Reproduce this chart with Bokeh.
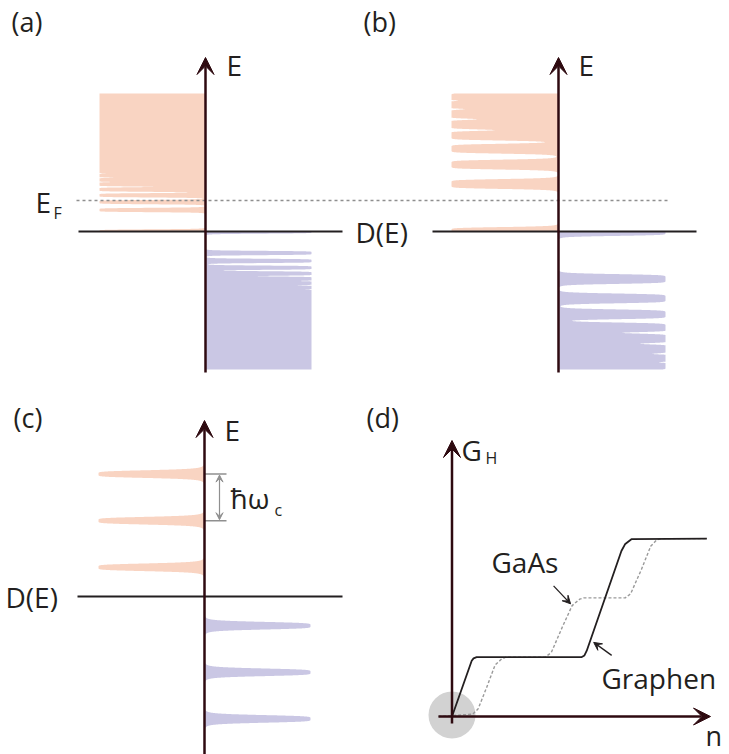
import numpy as np
from bokeh.plotting import figure
from bokeh.models import Range1d, Arrow, VeeHead
from bokeh.core.properties import value
from bokeh.embed import file_html
from bokeh.resources import INLINE

# ---------------- data ----------------
# (a) graphene, weak field: Landau-level energies (mirrored for E<0) and broadenings
a_levels = [0.0, 21.5, 29.4, 36.2, 42.0, 47.2, 51.7, 55.8]
a_broad = [2.2, 2.2, 2.2, 2.2, 2.35, 2.3, 2.1, 1.89]
a_continuum = 60.0
a_continuum_broad = 2.27
a_E_max = 138.0
a_E_F = 31.0
# (b) graphene, strong field
b_levels = [0.0, 47.5, 66.9, 82.8, 95.9, 106.9, 117.5, 126.7, 135.0]
b_broad = [4.5, 5.0, 5.0, 5.0, 5.0, 5.1, 5.0, 4.0, 4.2]
b_E_max = 138.0
# (c) GaAs 2DEG: equally spaced levels
c_levels = [29.2, 75.8, 122.4]
c_broad = [4.0, 4.0, 4.0]
c_E_max = 150.0
# (d) Hall conductance G_H versus density n
graphene_n = [0.0, 0.256, 0.28, 0.32, 1.68, 1.72, 1.75, 2.20, 2.25, 2.33, 3.31]
graphene_G = [0.0, 0.94, 0.98, 1.0, 1.0, 1.03, 1.11, 2.79, 2.91, 2.99, 3.0]
gaas_n = [-0.18, 0.27, 0.34, 0.45, 0.56, 0.645, 0.70, 1.21, 1.29, 1.43, 1.56, 1.66,
          1.71, 2.25, 2.32, 2.46, 2.58, 2.66, 2.73, 3.30]
gaas_G = [0.0, 0.04, 0.13, 0.49, 0.87, 0.97, 1.0, 1.0, 1.08, 1.50, 1.87, 1.98,
          2.0, 2.0, 2.07, 2.48, 2.87, 2.98, 3.0, 3.0]
gaas_pointer = (1.54, 1.90)
graphene_pointer = (1.84, 1.25)

# ---------------- styles / layout ----------------
ORANGE = "#f9d4c2"
PURPLE = "#cac7e4"
AX = "#2e0a10"
INK = "#231f20"
GREY = "#8f8f8f"
FONT = value("Open Sans")
TEXT_DY = -11

p = figure(width=729, height=754, x_range=Range1d(0, 729), y_range=Range1d(754, 0),
           x_axis_type=None, y_axis_type=None, toolbar_location=None,
           output_backend="svg", min_border=0)
p.grid.visible = False
p.outline_line_color = None
p.background_fill_color = "white"
p.border_fill_color = "white"


def dos(E, levels, broad, pw, cont=None, cont_broad=None):
    D = np.zeros_like(E)
    for e, g in zip(levels, broad):
        D += 1.0 / (1.0 + np.abs((E - e) / g) ** pw)
    if cont is not None:
        D += np.where(E >= cont, 1.0, 1.0 / (1.0 + np.abs((cont - E) / cont_broad) ** pw))
    return np.minimum(D, 1.0)


def dos_panel(ax_x, zero_y, W, E_max, levels, broad, pw, cont=None, cont_broad=None):
    E = np.linspace(0, E_max, 4000)
    D = dos(E, levels, broad, pw, cont, cont_broad)
    p.harea(y=zero_y - E, x1=ax_x - W * D, x2=np.full_like(E, ax_x), fill_color=ORANGE)
    p.harea(y=zero_y + E, x1=np.full_like(E, ax_x), x2=ax_x + W * D, fill_color=PURPLE)


def axis_arrow(x0, y0, x1, y1, width=2.5, size=17, color=AX):
    p.add_layout(Arrow(x_start=x0, y_start=y0, x_end=x1, y_end=y1,
                       line_color=color, line_width=width,
                       end=VeeHead(size=size, fill_color=color, line_color=color)))


def label(x, y, t, size=28, align="left"):
    p.text(x=[x], y=[y + TEXT_DY], text=[t], text_font=FONT, text_font_size=value(f"{size}px"),
           text_color=INK, text_align=align, text_baseline="alphabetic")


# ---- panel (a)
A_X, A_Y, A_W = 205, 231, 106
dos_panel(A_X, A_Y, A_W, a_E_max, a_levels, a_broad, 10, a_continuum, a_continuum_broad)
# ---- panel (b)
B_X, B_Y, B_W = 558, 231, 107
dos_panel(B_X, B_Y, B_W, b_E_max, b_levels, b_broad, 10)
# ---- panel (c)
C_X, C_Y, C_W = 204, 596, 106
dos_panel(C_X, C_Y, C_W, c_E_max, c_levels, c_broad, 6)

# Fermi level (dotted)
p.line(x=[76, 667], y=[A_Y - a_E_F] * 2, line_color=GREY, line_width=1.5, line_dash="3 3")

# D(E) axes
p.line(x=[78, 342], y=[A_Y, A_Y], line_color=INK, line_width=2)
p.line(x=[432, 696], y=[B_Y, B_Y], line_color=INK, line_width=2)
p.line(x=[77, 342], y=[C_Y, C_Y], line_color=INK, line_width=2)

# E axes
axis_arrow(A_X, 372, A_X, 57)
axis_arrow(B_X, 372, B_X, 57)
axis_arrow(C_X, 760, C_X, 420)

# hbar omega_c bracket
lv1 = C_Y - c_levels[2]
lv2 = C_Y - c_levels[1]
p.segment(x0=[C_X, C_X], y0=[lv1, lv2], x1=[226, 226], y1=[lv1, lv2], line_color=GREY, line_width=1.5)
p.add_layout(Arrow(x_start=219, y_start=lv2 - 1, x_end=219, y_end=lv1 + 1, line_color=GREY, line_width=1.2,
                   start=VeeHead(size=7, fill_color=GREY, line_color=GREY),
                   end=VeeHead(size=7, fill_color=GREY, line_color=GREY)))

# ---- panel (d)
D_X, D_Y, D_NS, D_GS = 451.5, 716, 77.0, 59.3
p.scatter(x=[D_X], y=[D_Y - 1.5], size=47, fill_color="#d2d2d2", line_color=None)
p.line(x=[D_X + D_NS * n for n in gaas_n], y=[D_Y - D_GS * g for g in gaas_G],
       line_color="#9a9a9a", line_width=1.4, line_dash="3 2")
p.line(x=[D_X + D_NS * n for n in graphene_n], y=[D_Y - D_GS * g for g in graphene_G],
       line_color=INK, line_width=1.8)
axis_arrow(D_X, 723, D_X, 440)
axis_arrow(438, D_Y, 710, D_Y)

gx, gy = D_X + D_NS * gaas_pointer[0], D_Y - D_GS * gaas_pointer[1]
p.add_layout(Arrow(x_start=gx - 17, y_start=gy - 18, x_end=gx, y_end=gy, line_color=INK, line_width=1.3,
                   end=VeeHead(size=8, fill_color=INK, line_color=INK)))
rx, ry = D_X + D_NS * graphene_pointer[0], D_Y - D_GS * graphene_pointer[1]
p.add_layout(Arrow(x_start=rx + 18, y_start=ry + 13, x_end=rx, y_end=ry, line_color=INK, line_width=1.3,
                   end=VeeHead(size=8, fill_color=INK, line_color=INK)))

# ---- texts
label(11, 32, "(a)", 27)
label(363, 32, "(b)", 27)
label(13, 428, "(c)", 27)
label(366, 428, "(d)", 27)
label(226, 75, "E")
label(578, 75, "E")
label(224, 440, "E")
label(35, 212, "E")
label(53, 223, "F", 16)
label(355, 242, "D(E)")
label(5, 607, "D(E)")
label(230, 508, "ħω")
label(274, 520, "c", 16)
label(461, 460, "G")
label(485, 468, "H", 16)
label(705, 746, "n", 27)
label(491, 572, "GaAs")
label(601, 688, "Graphen")

open("out.html", "w").write(file_html(p, INLINE, title="Landau levels"))
